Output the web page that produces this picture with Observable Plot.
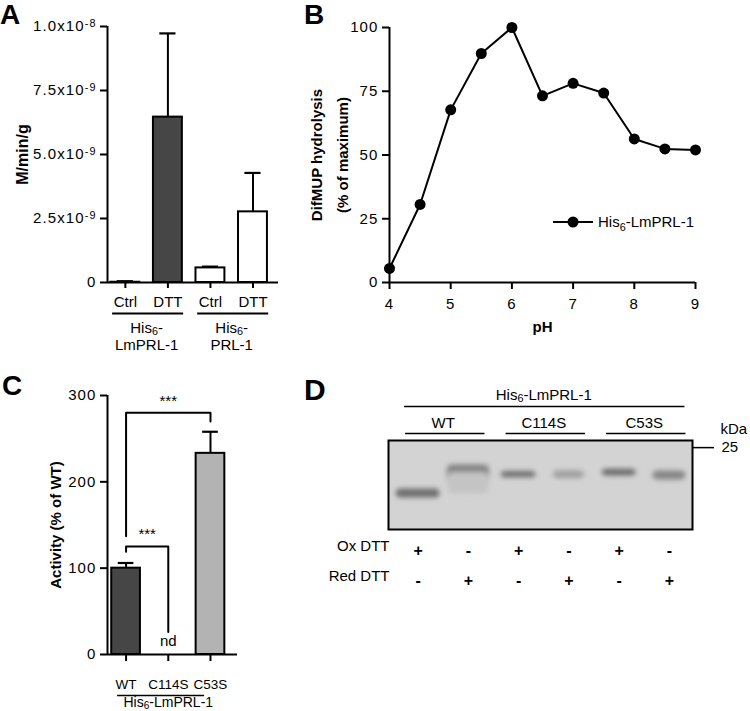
<!DOCTYPE html>
<html><head><meta charset="utf-8">
<script src="https://cdn.jsdelivr.net/npm/d3@7"></script>
<script src="https://cdn.jsdelivr.net/npm/@observablehq/plot@0.6"></script>
<style>
body{margin:0;background:#fff;font-family:"Liberation Sans",Arial,sans-serif;}
#fig{position:relative;width:750px;height:711px;overflow:hidden;}
.panel{position:absolute;}
.letter{position:absolute;font-weight:bold;font-size:28px;line-height:1;}
.legend{position:absolute;font-size:15px;display:flex;align-items:center;gap:4px;}
.legend sub{font-size:72%;line-height:0;}
</style></head><body><div id="fig"></div>
<script>
// ---------- Panel A data ----------
const aCategories = ["Ctrl", "DTT", "Ctrl", "DTT"];
const aValues = [0.01e-9, 6.46e-9, 0.57e-9, 2.76e-9];
const aErrors = [0.04e-9, 3.27e-9, 0.05e-9, 1.52e-9];
const aFills = ["#ffffff", "#464646", "#ffffff", "#ffffff"];
const aGroupLabels = ["His₆-\nLmPRL-1", "His₆-\nPRL-1"];
const aGroupMembers = [[1, 2], [3, 4]];
const aYTicks = [0, 2.5e-9, 5e-9, 7.5e-9, 1e-8];
const aYTickLabels = ["0", "2.5x10⁻⁹", "5.0x10⁻⁹", "7.5x10⁻⁹", "1.0x10⁻⁸"];
const aYTitle = "M/min/g";

// ---------- Panel B data ----------
const bPH = [4, 4.5, 5, 5.5, 6, 6.5, 7, 7.5, 8, 8.5, 9];
const bActivity = [5.5, 30.6, 67.7, 89.8, 100, 73.2, 78.1, 74.3, 56.3, 52.4, 52.0];
const bXTicks = [4, 5, 6, 7, 8, 9];
const bYTicks = [0, 25, 50, 75, 100];
const bSeriesName = "His₆-LmPRL-1";
const bXTitle = "pH";
const bYTitle = "DifMUP hydrolysis\n(% of maximum)";

// ---------- Panel C data ----------
const cCategories = ["WT", "C114S", "C53S"];
const cValues = [100, 0, 233];
const cErrors = [6, 0, 25];
const cFills = ["#464646", "#ffffff", "#b3b3b3"];
const cNotDetected = ["", "nd", ""];
const cGroupLabel = "His₆-LmPRL-1";
const cYTicks = [0, 100, 200, 300];
const cYTitle = "Activity (% of WT)";
const cBrackets = [
  {from: 1, to: 3, top: 280, leftEnd: 137, rightEnd: 270, label: "***"},
  {from: 1, to: 2, top: 125, leftEnd: 119, rightEnd: 26, label: "***"}
];

// ---------- Panel D data ----------
const dLanes = [1, 2, 3, 4, 5, 6];
const dOxDTT = ["+", "-", "+", "-", "+", "-"];
const dRedDTT = ["-", "+", "-", "+", "-", "+"];
const dGroups = ["WT", "C114S", "C53S"];
const dGroupLanes = [[1, 2], [3, 4], [5, 6]];
const dTitle = "His₆-LmPRL-1";
// band: lane, relative migration (0 = top of gel, 1 = bottom), thickness, width (lanes), grey level
const dBandLane = [1, 2, 2, 3, 4, 5, 6];
const dBandPos = [0.596, 0.375, 0.48, 0.384, 0.384, 0.36, 0.393];
const dBandThick = [0.1, 0.2, 0.24, 0.07, 0.09, 0.075, 0.1];
const dBandWidth = [0.88, 0.84, 0.8, 0.7, 0.62, 0.68, 0.66];
const dBandColor = ["#6e6e6e", "#828282", "#c4c4c4", "#6e6e6e", "#a0a0a0", "#6a6a6a", "#868686"];
const dMarkerPos = [0.08];
const dMarkerLabel = ["25"];
const dUnit = "kDa";

const FONT = '"Liberation Sans", Arial, Helvetica, sans-serif';
const TICK = 15;
const baseStyle = {fontFamily: FONT, fontSize: "15px", color: "#000", background: "transparent", overflow: "visible"};
const ns = "http://www.w3.org/2000/svg";
const fig = document.getElementById("fig");
const SUP = {"⁻": "-", "⁰": "0", "¹": "1", "²": "2", "³": "3", "⁴": "4", "⁵": "5", "⁶": "6", "⁷": "7", "⁸": "8", "⁹": "9"};
const SUB = {"₀": "0", "₁": "1", "₂": "2", "₃": "3", "₄": "4", "₅": "5", "₆": "6", "₇": "7", "₈": "8", "₉": "9"};
// turn unicode super/subscript characters into real SVG tspans with a baseline shift
function fixScripts(svg) {
  const walker = document.createTreeWalker(svg, NodeFilter.SHOW_TEXT);
  const nodes = [];
  while (walker.nextNode()) nodes.push(walker.currentNode);
  for (const n of nodes) {
    const s = n.nodeValue;
    if (![...s].some(ch => SUP[ch] || SUB[ch])) continue;
    const segs = [];
    let buf = "", mode = null;
    for (const ch of s) {
      const m = SUP[ch] ? "super" : SUB[ch] ? "sub" : null;
      const c = SUP[ch] || SUB[ch] || ch;
      if (m !== mode) { if (buf) segs.push([mode, buf]); buf = ""; mode = m; }
      buf += c;
    }
    if (buf) segs.push([mode, buf]);
    const frag = document.createDocumentFragment();
    for (const [m, t] of segs) {
      if (!m) frag.appendChild(document.createTextNode(t));
      else {
        const ts = document.createElementNS(ns, "tspan");
        ts.setAttribute("baseline-shift", m === "super" ? "40%" : "-22%");
        ts.setAttribute("font-size", "72%");
        ts.textContent = t;
        frag.appendChild(ts);
      }
    }
    n.parentNode.replaceChild(frag, n);
  }
}
function spaceNumbers(svg, which) {
  svg.querySelectorAll(`g[aria-label="${which}-axis tick label"]`).forEach(g => g.style.letterSpacing = "1.1px");
}
function place(el, left, top) {
  fixScripts(el);
  el.classList.add("panel");
  el.style.left = left + "px"; el.style.top = top + "px";
  fig.appendChild(el);
}
function letter(t, left, top, size) {
  const d = document.createElement("div");
  d.className = "letter"; d.textContent = t;
  d.style.left = left + "px"; d.style.top = top + "px";
  if (size) d.style.fontSize = size + "px";
  fig.appendChild(d);
}

// ================= Panel A =================
{
  const data = aCategories.map((c, i) => ({pos: i + 1, cat: c, v: aValues[i], e: aErrors[i], fill: aFills[i]}));
  const groups = aGroupLabels.map((g, i) => ({label: g, x1: aGroupMembers[i][0], x2: aGroupMembers[i][1]}));
  const xd = [0.58, 4.6];
  const A = Plot.plot({
    width: 290, height: 360, marginLeft: 107, marginRight: 12, marginTop: 26, marginBottom: 78,
    style: baseStyle,
    x: {domain: xd},
    y: {domain: [0, 1e-8]},
    color: {type: "identity"},
    marks: [
      Plot.ruleX(data, {x: "pos", y1: "v", y2: d => d.v + d.e, strokeWidth: 2}),
      Plot.ruleY(data, {y: d => d.v + d.e, x1: d => d.pos - 0.19, x2: d => d.pos + 0.19, strokeWidth: 2.2}),
      Plot.rect(data, {x1: d => d.pos - 0.34, x2: d => d.pos + 0.34, y1: 0, y2: "v", fill: "fill", stroke: "#000", strokeWidth: 2}),
      Plot.ruleX([xd[0]], {y1: 0, y2: 1e-8, strokeWidth: 2}),
      Plot.ruleY([0], {strokeWidth: 2}),
      Plot.axisY({ticks: aYTicks, tickFormat: d => aYTickLabels[aYTicks.indexOf(d)], tickSize: 7, tickPadding: 4, strokeWidth: 2, fontSize: TICK, label: null}),
      Plot.axisX({ticks: [1, 2, 3, 4], tickFormat: d => aCategories[d - 1], tickSize: 6, tickPadding: 8, strokeWidth: 2, fontSize: TICK, label: null}),
      Plot.ruleY(groups, {y: () => 0, x1: d => d.x1 - 0.3, x2: d => d.x2 + 0.37, dy: 31, strokeWidth: 2}),
      Plot.text(groups, {x: d => (d.x1 + d.x2) / 2, y: () => 0, text: "label", dy: 38, lineAnchor: "top", lineHeight: 1.15, fontSize: 15}),
      Plot.text([aYTitle], {frameAnchor: "left", textAnchor: "middle", rotate: -90, dx: -85, fontWeight: "bold", fontSize: 16})
    ]
  });
  spaceNumbers(A, "y");
  place(A, 0, 0);
  letter("A", 0, 1);
}

// ================= Panel B =================
{
  const data = bPH.map((p, i) => ({ph: p, act: bActivity[i]}));
  const B = Plot.plot({
    width: 500, height: 360, marginLeft: 139, marginRight: 55, marginTop: 27, marginBottom: 78,
    style: baseStyle,
    x: {domain: [4, 9]},
    y: {domain: [0, 100]},
    marks: [
      Plot.ruleX([4], {y1: 0, y2: 100, strokeWidth: 2}),
      Plot.ruleY([0], {strokeWidth: 2}),
      Plot.axisY({ticks: bYTicks, tickFormat: d => String(d), tickSize: 7, tickPadding: 4, strokeWidth: 2, fontSize: TICK, label: null}),
      Plot.axisX({ticks: bXTicks, tickFormat: d => String(d), tickSize: 7, tickPadding: 9, strokeWidth: 2, fontSize: TICK, label: null}),
      Plot.line(data, {x: "ph", y: "act", strokeWidth: 2, stroke: "#000"}),
      Plot.dot(data, {x: "ph", y: "act", r: 5.5, fill: "#000", stroke: "none"}),
      Plot.text([bXTitle], {frameAnchor: "bottom", dy: 49, fontWeight: "bold", fontSize: 15}),
      Plot.text([bYTitle], {frameAnchor: "left", textAnchor: "middle", rotate: -90, dx: -63, lineHeight: 1.75, fontWeight: "bold", fontSize: 15})
    ]
  });
  spaceNumbers(B, "y"); spaceNumbers(B, "x");
  place(B, 250, 0);
  letter("B", 304, 1);
  const lg = document.createElement("div");
  lg.className = "legend";
  lg.innerHTML = '<svg width="42" height="14"><line x1="1" y1="7" x2="41" y2="7" stroke="#000" stroke-width="2"/><circle cx="21" cy="7" r="5.5" fill="#000"/></svg><span></span>';
  lg.querySelector("span").innerHTML = bSeriesName.replace(/₆/g, "<sub>6</sub>");
  lg.style.left = "552px"; lg.style.top = "213px";
  fig.appendChild(lg);
}

// ================= Panel C =================
{
  const data = cCategories.map((c, i) => ({pos: i + 1, cat: c, v: cValues[i], e: cErrors[i], fill: cFills[i], nd: cNotDetected[i]}));
  const bars = data.filter(d => d.v > 0);
  const brPts = [];
  cBrackets.forEach((b, k) => {
    brPts.push({k, x: b.from, y: b.leftEnd}, {k, x: b.from, y: b.top}, {k, x: b.to, y: b.top}, {k, x: b.to, y: b.rightEnd});
  });
  const xd = [0.56, 3.64];
  const C = Plot.plot({
    width: 290, height: 351, marginLeft: 107, marginRight: 53, marginTop: 35, marginBottom: 57,
    style: baseStyle,
    x: {domain: xd},
    y: {domain: [0, 300]},
    color: {type: "identity"},
    marks: [
      Plot.ruleX(bars, {x: "pos", y1: "v", y2: d => d.v + d.e, strokeWidth: 2}),
      Plot.ruleY(bars, {y: d => d.v + d.e, x1: d => d.pos - 0.185, x2: d => d.pos + 0.185, strokeWidth: 2.2}),
      Plot.rect(bars, {x1: d => d.pos - 0.34, x2: d => d.pos + 0.34, y1: 0, y2: "v", fill: "fill", stroke: "#000", strokeWidth: 2}),
      Plot.ruleX([xd[0]], {y1: 0, y2: 300, strokeWidth: 2}),
      Plot.ruleY([0], {strokeWidth: 2}),
      Plot.axisY({ticks: cYTicks, tickFormat: d => String(d), tickSize: 7, tickPadding: 4, strokeWidth: 2, fontSize: TICK, label: null}),
      Plot.axisX({ticks: [1, 2, 3], tickFormat: d => cCategories[d - 1], tickSize: 7, tickPadding: 18, strokeWidth: 2, fontSize: 13.5, label: null}),
      Plot.line(brPts, {x: "x", y: "y", z: "k", strokeWidth: 2, stroke: "#000"}),
      Plot.text(cBrackets, {x: d => (d.from + d.to) / 2, y: "top", text: "label", dy: -12, fontSize: 15}),
      Plot.text(data.filter(d => d.nd), {x: "pos", y: () => 15, text: "nd", fontSize: 15}),
      Plot.ruleY([cGroupLabel], {y: () => 0, x1: 0.8, x2: 2.86, dy: 41, strokeWidth: 1.5}),
      Plot.text([cGroupLabel], {x: () => 2, y: () => 0, dy: 48, fontSize: 14}),
      Plot.text([cYTitle], {frameAnchor: "left", textAnchor: "middle", rotate: -90, dx: -51, fontWeight: "bold", fontSize: 15})
    ]
  });
  spaceNumbers(C, "y");
  place(C, 0, 360);
  letter("C", 2, 372);
}

// ================= Panel D =================
{
  const bands = dBandLane.map((l, i) => ({lane: l, pos: dBandPos[i], t: dBandThick[i], w: dBandWidth[i], c: dBandColor[i]}));
  const signs = dLanes.map((l, i) => ({lane: l, ox: dOxDTT[i], red: dRedDTT[i]}));
  const groups = dGroups.map((g, i) => ({label: g, a: dGroupLanes[i][0], b: dGroupLanes[i][1]}));
  const first = dLanes[0], last = dLanes[dLanes.length - 1];
  const D = Plot.plot({
    width: 450, height: 351, marginLeft: 88, marginRight: 58, marginTop: 80, marginBottom: 182,
    style: baseStyle,
    x: {domain: [0.41, 6.46], axis: null},
    y: {domain: [0, 1], reverse: true},
    color: {type: "identity"},
    marks: [
      Plot.frame({fill: "#d3d3d3", stroke: "none"}),
      Plot.rect(bands, {x1: d => d.lane - d.w / 2, x2: d => d.lane + d.w / 2, y1: d => d.pos - d.t / 2, y2: d => d.pos + d.t / 2, fill: "c", rx: 5}),
      Plot.frame({stroke: "#000", strokeWidth: 2}),
      Plot.axisY({anchor: "right", ticks: dMarkerPos, tickFormat: (d) => dMarkerLabel[dMarkerPos.indexOf(d)], tickSize: 21, tickPadding: 8, strokeWidth: 1.5, fontSize: TICK, label: null}),
      Plot.text([dUnit], {frameAnchor: "top-right", textAnchor: "start", dx: 28, dy: -17, fontSize: 15}),
      Plot.text([dTitle], {x: () => (first + last) / 2, y: () => 0, dy: -45, fontSize: 15}),
      Plot.ruleY([dTitle], {y: () => 0, x1: first - 0.27, x2: last + 0.31, dy: -34, strokeWidth: 1.5}),
      Plot.text(groups, {x: d => (d.a + d.b) / 2, y: () => 0, text: "label", dy: -17, fontSize: 15}),
      Plot.ruleY(groups, {y: () => 0, x1: d => d.a - 0.25, x2: d => d.b + 0.33, dy: -7, strokeWidth: 1.5}),
      Plot.text(["Ox DTT"], {frameAnchor: "bottom-left", textAnchor: "end", dy: 21, dx: 1, fontSize: 15}),
      Plot.text(["Red DTT"], {frameAnchor: "bottom-left", textAnchor: "end", dy: 51, dx: 1, fontSize: 15}),
      Plot.text(signs, {x: "lane", y: () => 1, text: "ox", dy: 21, fontSize: 16, fontWeight: "bold"}),
      Plot.text(signs, {x: "lane", y: () => 1, text: "red", dy: 51, fontSize: 16, fontWeight: "bold"})
    ]
  });
  const defs = document.createElementNS(ns, "defs");
  defs.innerHTML = '<filter id="bandblur" x="-30%" y="-100%" width="160%" height="300%"><feGaussianBlur stdDeviation="2.8"/></filter>';
  D.insertBefore(defs, D.firstChild);
  D.querySelectorAll('g[aria-label="rect"]').forEach(g => g.setAttribute("filter", "url(#bandblur)"));
  place(D, 300, 360);
  letter("D", 304, 375, 30);
}
</script></body></html>
